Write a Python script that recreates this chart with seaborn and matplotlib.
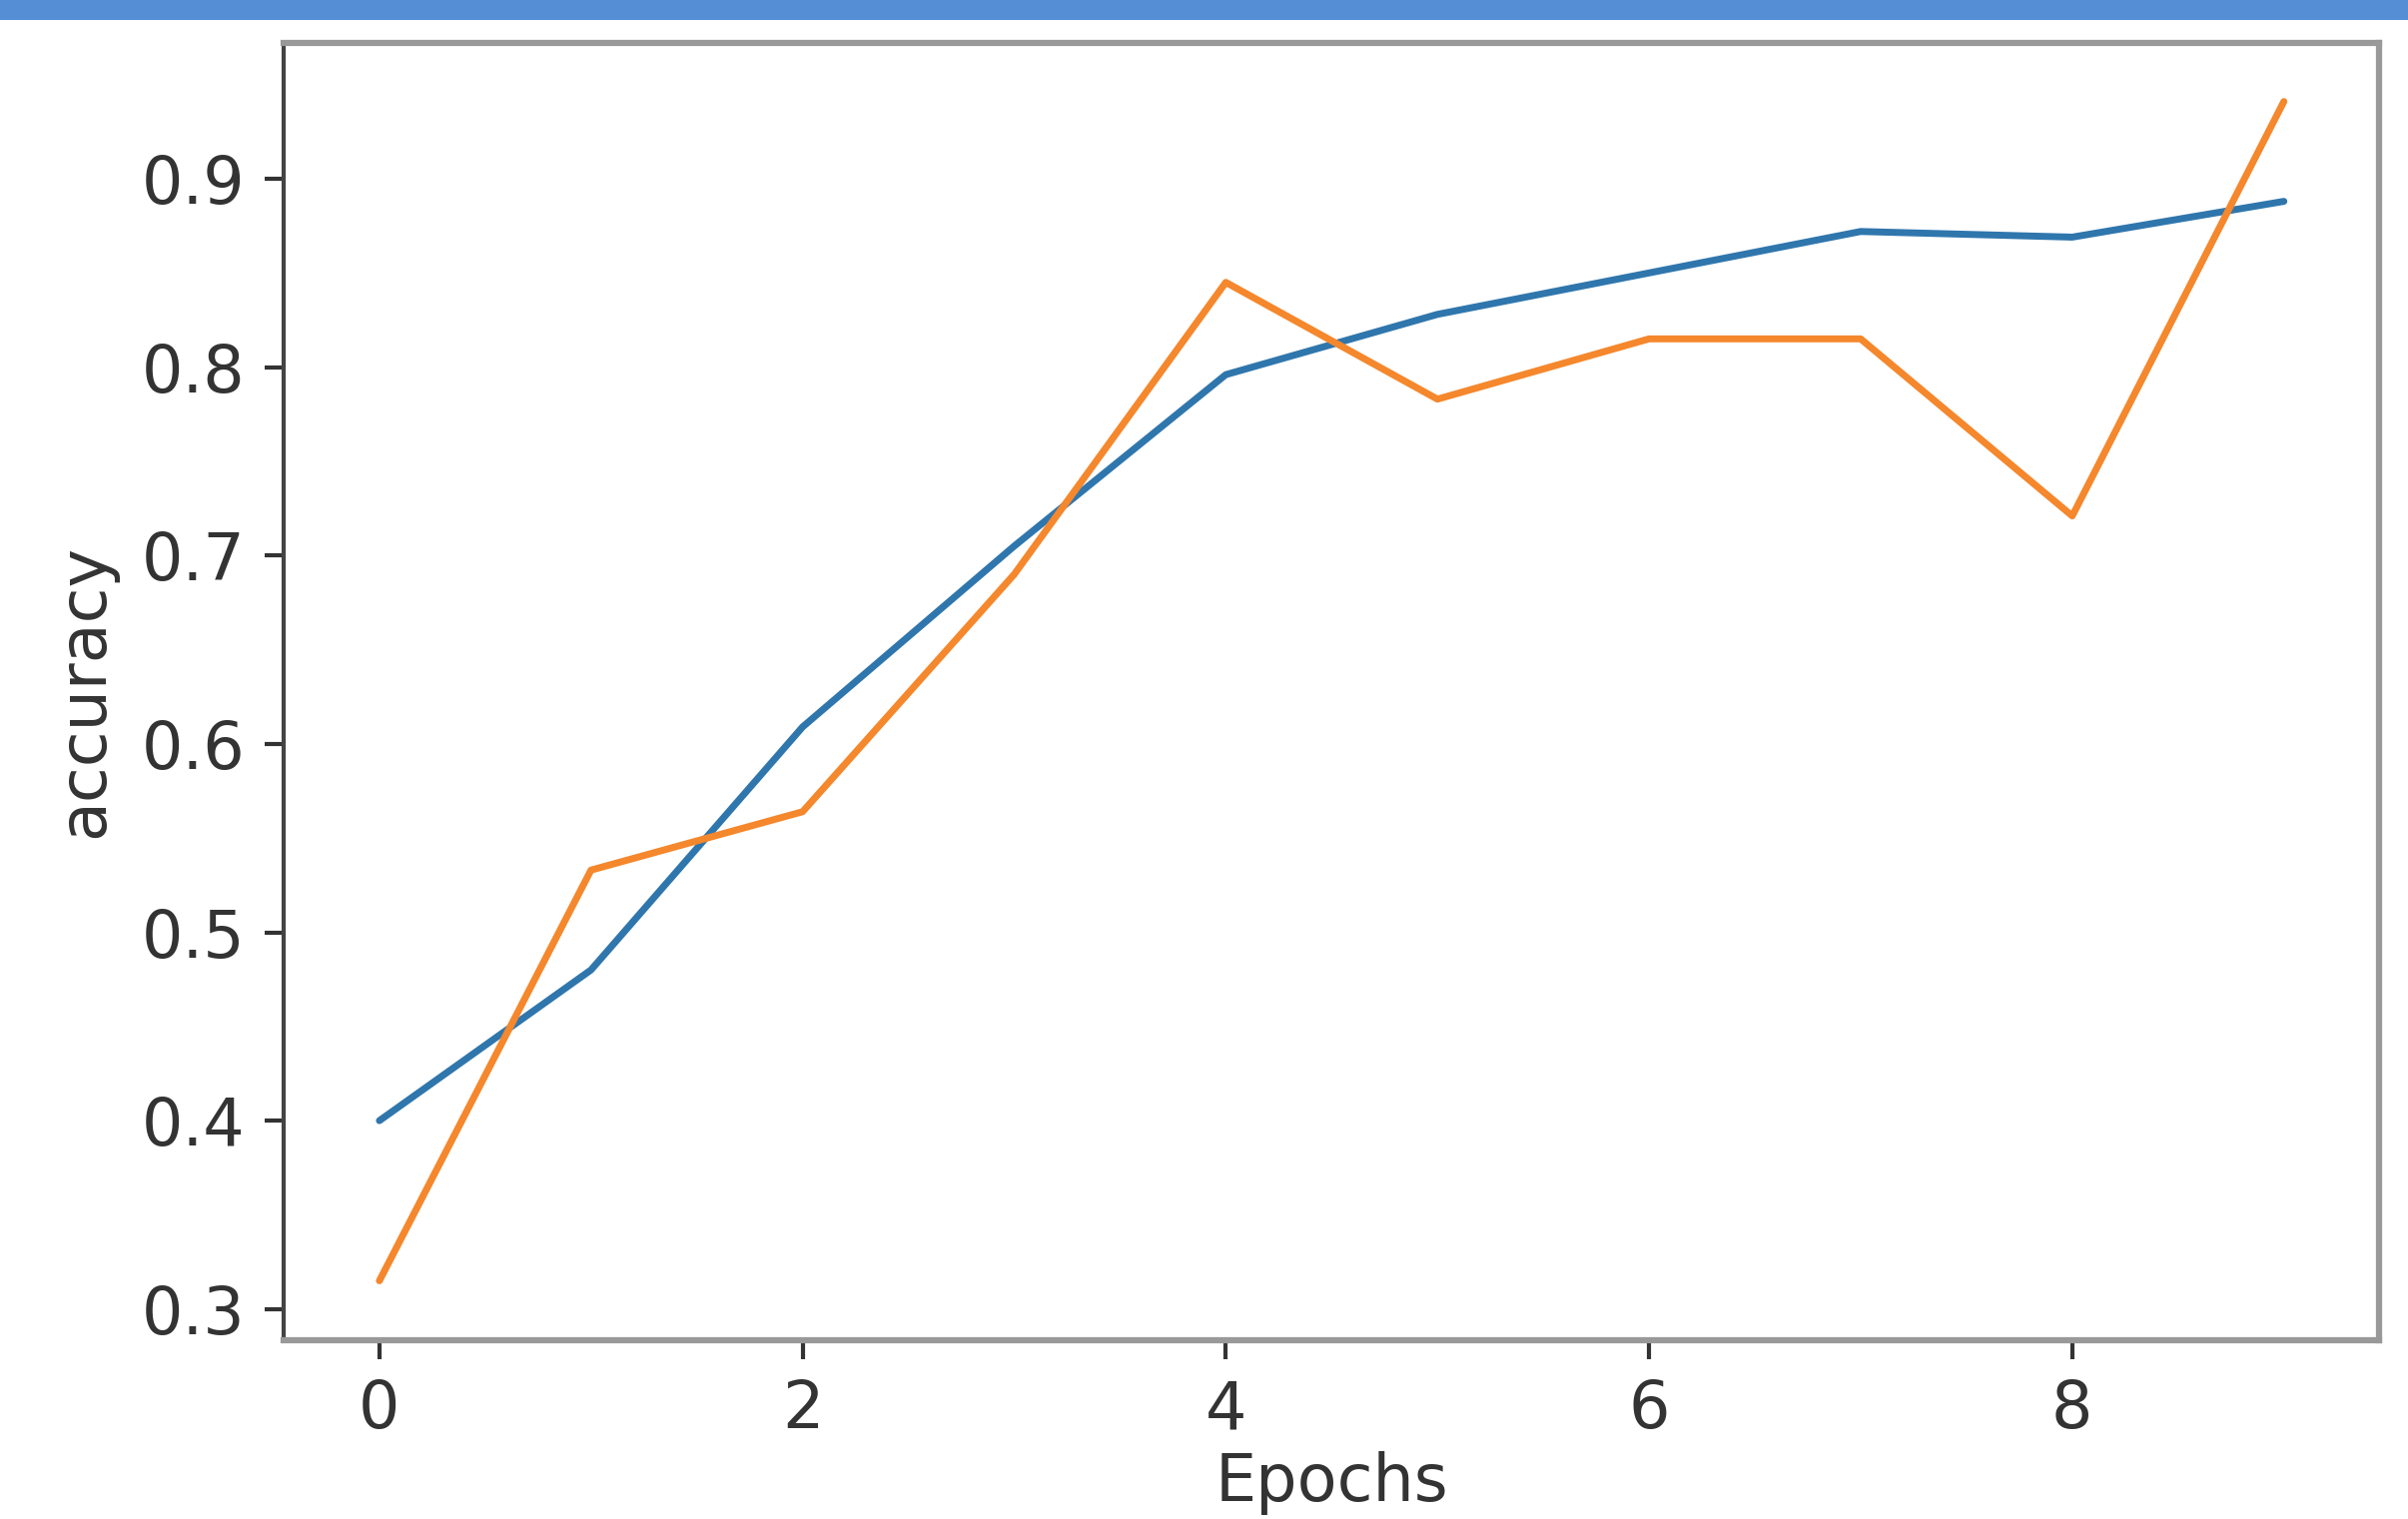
import numpy as np
import matplotlib.pyplot as plt
import seaborn as sns
import pandas as pd
from matplotlib.patches import Rectangle

# accuracy per epoch
epochs = [0, 1, 2, 3, 4, 5, 6, 7, 8, 9]
train_acc = [0.400, 0.480, 0.609, 0.705, 0.796, 0.828, 0.850, 0.872, 0.869, 0.888]
val_acc = [0.315, 0.533, 0.564, 0.690, 0.845, 0.783, 0.815, 0.815, 0.721, 0.941]

df = pd.DataFrame({
    'epoch': epochs * 2,
    'accuracy': train_acc + val_acc,
    'split': ['train'] * len(epochs) + ['val'] * len(epochs),
})

sns.set_theme(style='ticks')
plt.rcParams['font.family'] = ['DejaVu Sans']

fig = plt.figure(figsize=(24.11, 15.21), dpi=100)
ax = fig.add_axes([0.118, 0.118, 0.870, 0.854])

sns.lineplot(data=df, x='epoch', y='accuracy', hue='split',
             palette=['#2f76ad', '#f5872c'], linewidth=5, legend=False, ax=ax)

ax.set_xticks([0, 2, 4, 6, 8])
ax.set_yticks([0.3, 0.4, 0.5, 0.6, 0.7, 0.8, 0.9])
ax.tick_params(labelsize=47, length=14, width=3, colors='#333333', pad=14)
ax.set_xlabel('Epochs', fontsize=47, color='#333333', labelpad=6)
ax.set_ylabel('accuracy', fontsize=47, color='#333333', labelpad=18)
for side in ['top', 'right', 'bottom']:
    ax.spines[side].set_color('#999999')
    ax.spines[side].set_linewidth(4.5)
ax.spines['left'].set_color('#444444')
ax.spines['left'].set_linewidth(3)

# blue header strip across the top
fig.patches.append(Rectangle((0, 1 - 20 / 1521), 1, 20 / 1521, transform=fig.transFigure,
                             facecolor='#558ed5', edgecolor='none', zorder=5))

fig.savefig('out.png', dpi=100)
